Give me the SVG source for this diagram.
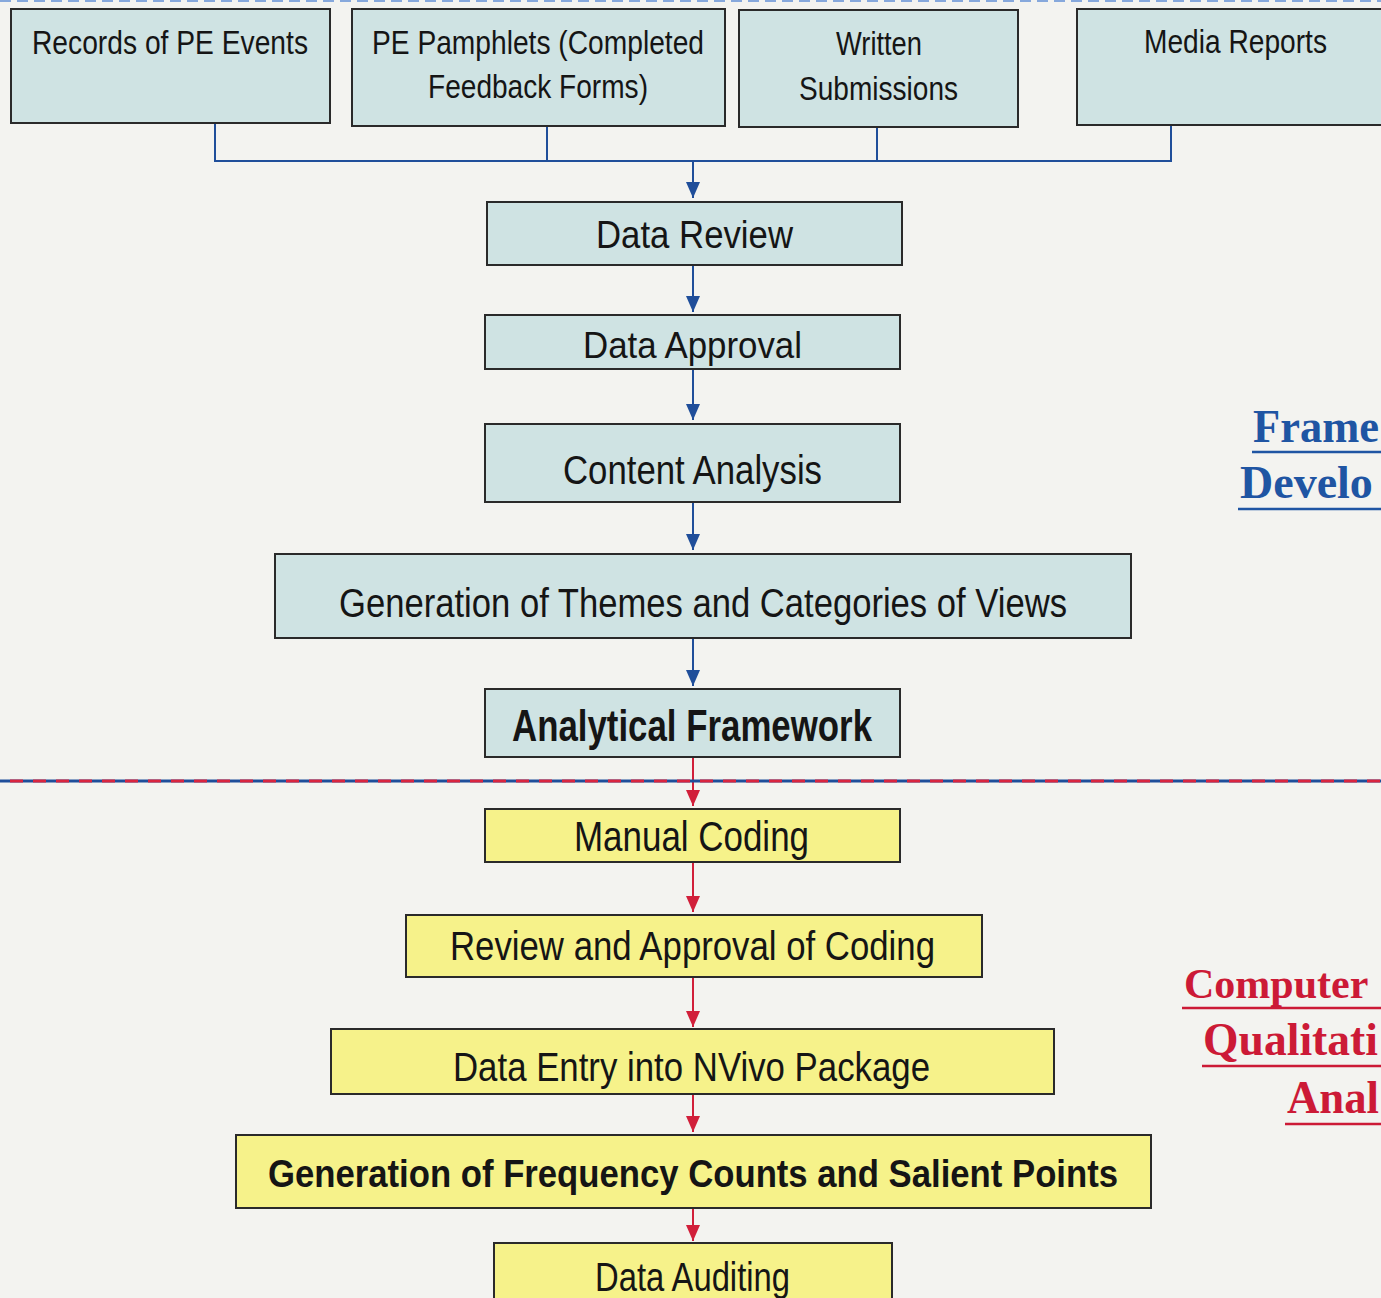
<svg xmlns="http://www.w3.org/2000/svg" width="1381" height="1298" viewBox="0 0 1381 1298">
<defs>
<style>
.bg{fill:#f3f3f0}
.bb{fill:#cfe3e3;stroke:#2a2a2a;stroke-width:2}
.yb{fill:#f6f28a;stroke:#2a2a2a;stroke-width:2}
.t{font-family:"Liberation Sans",Arial,sans-serif;fill:#151515;text-anchor:start}
.tb{font-family:"Liberation Sans",Arial,sans-serif;fill:#151515;font-weight:bold}
.bl{stroke:#1f4e9a;stroke-width:2;fill:none}
.rl{stroke:#d11f3a;stroke-width:2;fill:none}
.lblB{font-family:"Liberation Serif","Times New Roman",serif;font-weight:bold;font-size:46px;fill:#1f55a3}
.lblR{font-family:"Liberation Serif","Times New Roman",serif;font-weight:bold;font-size:46px;fill:#cc1a36}
</style>
<marker id="ab" markerUnits="userSpaceOnUse" markerWidth="16" markerHeight="14" refX="16" refY="7" orient="auto">
<path d="M0,0 L16,7 L0,14 z" fill="#1f4e9a"/>
</marker>
<marker id="ar" markerUnits="userSpaceOnUse" markerWidth="16" markerHeight="14" refX="16" refY="7" orient="auto">
<path d="M0,0 L16,7 L0,14 z" fill="#d11f3a"/>
</marker>
</defs>
<rect class="bg" x="0" y="0" width="1381" height="1298"/>
<line x1="0" y1="1" x2="1381" y2="1" stroke="#86a8dc" stroke-width="2" stroke-dasharray="11,6"/>

<g id="connectors">
<line class="bl" x1="215" y1="123" x2="215" y2="161"/>
<line class="bl" x1="547" y1="126" x2="547" y2="161"/>
<line class="bl" x1="877" y1="127" x2="877" y2="161"/>
<line class="bl" x1="1171" y1="125" x2="1171" y2="161"/>
<line class="bl" x1="214" y1="161" x2="1172" y2="161"/>
<line class="bl" x1="693" y1="161" x2="693" y2="198" marker-end="url(#ab)"/>
<line class="bl" x1="693" y1="265" x2="693" y2="312" marker-end="url(#ab)"/>
<line class="bl" x1="693" y1="369" x2="693" y2="420" marker-end="url(#ab)"/>
<line class="bl" x1="693" y1="502" x2="693" y2="550" marker-end="url(#ab)"/>
<line class="bl" x1="693" y1="638" x2="693" y2="686" marker-end="url(#ab)"/>
<line class="rl" x1="693" y1="757" x2="693" y2="806" marker-end="url(#ar)"/>
<line class="rl" x1="693" y1="862" x2="693" y2="912" marker-end="url(#ar)"/>
<line class="rl" x1="693" y1="977" x2="693" y2="1027" marker-end="url(#ar)"/>
<line class="rl" x1="693" y1="1094" x2="693" y2="1132" marker-end="url(#ar)"/>
<line class="rl" x1="693" y1="1208" x2="693" y2="1241" marker-end="url(#ar)"/>
</g>

<g id="divider">
<line x1="0" y1="781" x2="1381" y2="781" stroke="#1f4e9a" stroke-width="3"/>
<line x1="0" y1="781" x2="1381" y2="781" stroke="#d9253f" stroke-width="3" stroke-dasharray="13,10" stroke-dashoffset="-10"/>
</g>

<g id="n-records">
<rect class="bb" x="11" y="9" width="319" height="114"/>
<text class="t" x="32" y="54" font-size="33" textLength="276" lengthAdjust="spacingAndGlyphs">Records of PE Events</text>
</g>
<g id="n-pamphlets">
<rect class="bb" x="352" y="9" width="373" height="117"/>
<text class="t" x="372" y="54" font-size="33" textLength="332" lengthAdjust="spacingAndGlyphs">PE Pamphlets (Completed</text>
<text class="t" x="428" y="98" font-size="33" textLength="220" lengthAdjust="spacingAndGlyphs">Feedback Forms)</text>
</g>
<g id="n-written">
<rect class="bb" x="739" y="10" width="279" height="117"/>
<text class="t" x="836" y="55" font-size="33" textLength="86" lengthAdjust="spacingAndGlyphs">Written</text>
<text class="t" x="799" y="100" font-size="33" textLength="159" lengthAdjust="spacingAndGlyphs">Submissions</text>
</g>
<g id="n-media">
<rect class="bb" x="1077" y="9" width="310" height="116"/>
<text class="t" x="1144" y="53" font-size="33" textLength="183" lengthAdjust="spacingAndGlyphs">Media Reports</text>
</g>

<g id="n-review">
<rect class="bb" x="487" y="202" width="415" height="63"/>
<text class="t" x="596" y="248" font-size="38" textLength="197" lengthAdjust="spacingAndGlyphs">Data Review</text>
</g>
<g id="n-approval">
<rect class="bb" x="485" y="315" width="415" height="54"/>
<text class="t" x="583" y="358" font-size="37" textLength="219" lengthAdjust="spacingAndGlyphs">Data Approval</text>
</g>
<g id="n-content">
<rect class="bb" x="485" y="424" width="415" height="78"/>
<text class="t" x="563" y="484" font-size="41" textLength="259" lengthAdjust="spacingAndGlyphs">Content Analysis</text>
</g>
<g id="n-themes">
<rect class="bb" x="275" y="554" width="856" height="84"/>
<text class="t" x="339" y="617" font-size="40" textLength="728" lengthAdjust="spacingAndGlyphs">Generation of Themes and Categories of Views</text>
</g>
<g id="n-framework">
<rect class="bb" x="485" y="689" width="415" height="68"/>
<text class="tb" x="512" y="741" font-size="45" textLength="360" lengthAdjust="spacingAndGlyphs">Analytical Framework</text>
</g>

<g id="n-manual">
<rect class="yb" x="485" y="809" width="415" height="53"/>
<text class="t" x="574" y="851" font-size="43" textLength="235" lengthAdjust="spacingAndGlyphs">Manual Coding</text>
</g>
<g id="n-reviewcoding">
<rect class="yb" x="406" y="915" width="576" height="62"/>
<text class="t" x="450" y="960" font-size="40" textLength="485" lengthAdjust="spacingAndGlyphs">Review and Approval of Coding</text>
</g>
<g id="n-nvivo">
<rect class="yb" x="331" y="1029" width="723" height="65"/>
<text class="t" x="453" y="1081" font-size="40" textLength="477" lengthAdjust="spacingAndGlyphs">Data Entry into NVivo Package</text>
</g>
<g id="n-frequency">
<rect class="yb" x="236" y="1135" width="915" height="73"/>
<text class="tb" x="268" y="1187" font-size="39" textLength="850" lengthAdjust="spacingAndGlyphs">Generation of Frequency Counts and Salient Points</text>
</g>
<g id="n-auditing">
<rect class="yb" x="494" y="1243" width="398" height="70"/>
<text class="t" x="595" y="1291" font-size="40" textLength="195" lengthAdjust="spacingAndGlyphs">Data Auditing</text>
</g>

<g id="label-framework">
<text class="lblB" x="1253" y="442" textLength="126" lengthAdjust="spacingAndGlyphs">Frame</text>
<line x1="1252" y1="452" x2="1381" y2="452" stroke="#1f55a3" stroke-width="2.5"/>
<text class="lblB" x="1240" y="498">Develo</text>
<line x1="1238" y1="509" x2="1381" y2="509" stroke="#1f55a3" stroke-width="2.5"/>
</g>
<g id="label-computer">
<text class="lblR" x="1184" y="998" style="font-size:42px">Computer</text>
<line x1="1182" y1="1008" x2="1381" y2="1008" stroke="#cc1a36" stroke-width="2.5"/>
<text class="lblR" x="1203" y="1055" textLength="175" lengthAdjust="spacingAndGlyphs">Qualitati</text>
<line x1="1202" y1="1066" x2="1381" y2="1066" stroke="#cc1a36" stroke-width="2.5"/>
<text class="lblR" x="1287" y="1113" textLength="92" lengthAdjust="spacingAndGlyphs">Anal</text>
<line x1="1285" y1="1124" x2="1381" y2="1124" stroke="#cc1a36" stroke-width="2.5"/>
</g>
</svg>
